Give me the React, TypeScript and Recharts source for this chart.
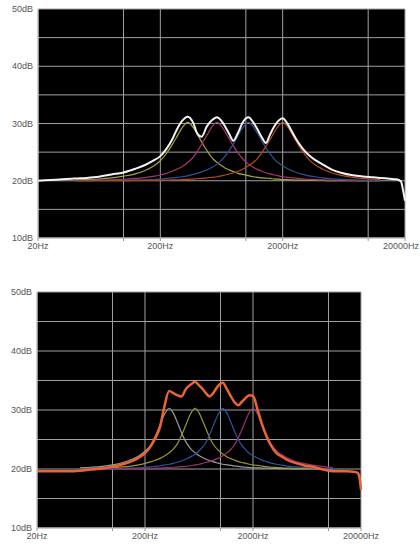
import React from 'react';
import { LineChart, Line, XAxis, YAxis, CartesianGrid } from 'recharts';

// shared frequency grid (Hz), log spaced-ish, denser around the four bands
const freqs = [20, 30, 40, 50, 63, 80, 100, 125, 150, 175, 200, 225, 250, 275, 300, 335, 370, 400, 435, 480, 530, 582, 630, 680, 730, 790, 860, 950, 1050, 1150, 1250, 1350, 1460, 1580, 1720, 1850, 2000, 2200, 2420, 2660, 2950, 3300, 3700, 4200, 5000, 6000, 7500, 9000, 11000, 12500, 15000, 17000, 18500, 19300, 20000];

const freqTicks = [20, 100, 200, 1000, 2000, 10000, 20000];
const freqLabels = [20, 200, 2000, 20000];
const dbTicks = [10, 15, 20, 25, 30, 35, 40, 45, 50];
const dbLabels = [10, 20, 30, 40, 50];

// top chart: combined response (white) + four bands
const topSum = [20.0, 20.2, 20.4, 20.5, 20.7, 21.1, 21.45, 22.1, 22.75, 23.5, 24.3, 25.6, 27.2, 29.1, 30.4, 31.2, 30.2, 28.3, 27.7, 29.5, 30.6, 31.1, 30.5, 29.4, 28.2, 27.0, 28.3, 30.3, 31.1, 30.2, 28.9, 27.6, 26.6, 28.1, 29.6, 30.5, 30.9, 29.9, 28.3, 26.8, 25.5, 24.4, 23.6, 22.9, 22.0, 21.4, 20.95, 20.75, 20.6, 20.5, 20.35, 20.25, 19.9, 18.3, 16.5];
const topBand1 = [null, null, 20.1, 20.2, 20.3, 20.5, 20.8, 21.2, 21.8, 22.55, 23.5, 24.8, 26.3, 27.8, 29.2, 30.2, 29.35, 28.15, 26.8, 25.3, 24.0, 23.2, 22.65, 22.2, 21.9, 21.6, 21.3, 21.1, 20.9, 20.7, 20.6, 20.5, 20.45, 20.4, 20.3, 20.3, 20.2, 20.2, 20.15, 20.1, 20.1, 20.1, 20.05, 20.05, 20.0, 20.0, 20.0, 20.0, 20.0, 20.0, null, null, null, null, null];
const topBand2 = [null, null, 20.0, 20.05, 20.1, 20.15, 20.25, 20.4, 20.55, 20.75, 21.0, 21.3, 21.65, 22.05, 22.45, 23.2, 24.1, 25.1, 26.35, 27.9, 29.45, 30.2, 29.6, 28.5, 27.35, 26.1, 24.9, 23.75, 22.9, 22.35, 21.95, 21.65, 21.4, 21.2, 21.0, 20.85, 20.7, 20.6, 20.5, 20.4, 20.3, 20.25, 20.2, 20.15, 20.1, 20.1, 20.05, 20.0, 20.0, 20.0, null, null, null, null, null];
const topBand3 = [null, null, 20.0, 20.0, 20.05, 20.05, 20.1, 20.1, 20.15, 20.2, 20.3, 20.4, 20.5, 20.6, 20.7, 20.85, 21.1, 21.3, 21.55, 21.9, 22.35, 22.9, 23.55, 24.35, 25.25, 26.4, 27.8, 29.35, 30.2, 29.45, 28.2, 26.95, 25.75, 24.7, 23.7, 23.1, 22.6, 22.1, 21.7, 21.35, 21.1, 20.85, 20.7, 20.5, 20.35, 20.25, 20.15, 20.1, 20.05, 20.05, null, null, null, null, null];
const topBand4 = [null, null, 20.0, 20.0, 20.0, 20.0, 20.0, 20.05, 20.05, 20.05, 20.1, 20.1, 20.15, 20.15, 20.2, 20.25, 20.3, 20.35, 20.4, 20.5, 20.6, 20.7, 20.85, 21.0, 21.2, 21.35, 21.65, 22.05, 22.6, 23.2, 23.9, 24.9, 26.0, 27.2, 28.6, 29.6, 30.2, 29.4, 27.95, 26.4, 24.95, 23.65, 22.75, 22.1, 21.4, 20.95, 20.6, 20.42, 20.27, 20.2, null, null, null, null, null];

// bottom chart: combined response (orange) + four bands
const botSum = [19.6, 19.6, 19.6, 19.7, 19.9, 20.1, 20.4, 20.8, 21.3, 21.9, 22.7, 23.8, 25.3, 27.1, 30.3, 33.2, 32.8, 32.5, 32.3, 33.6, 34.3, 34.8, 34.2, 33.6, 32.9, 32.3, 32.9, 34.1, 34.6, 33.5, 32.3, 31.3, 30.8, 31.4, 32.1, 32.5, 32.4, 30.1, 27.6, 25.6, 23.9, 22.7, 22.1, 21.5, 21.0, 20.6, 20.3, 19.9, 19.6, 19.6, 19.6, 19.55, 19.4, 18.7, 16.5];
const botBand1 = [null, null, null, 20.2, 20.3, 20.45, 20.7, 21.1, 21.6, 22.2, 23.0, 24.0, 25.6, 27.45, 29.1, 30.3, 29.3, 27.85, 26.2, 24.55, 23.4, 22.75, 22.3, 21.95, 21.7, 21.45, 21.2, 21.0, 20.8, 20.7, 20.6, 20.5, 20.45, 20.35, 20.3, 20.25, 20.2, 20.2, 20.15, 20.15, 20.1, 20.1, 20.05, 20.05, 20.0, 20.0, 20.0, 20.0, 20.0, null, null, null, null, null, null];
const botBand2 = [null, null, null, 20.05, 20.1, 20.15, 20.25, 20.35, 20.5, 20.7, 20.95, 21.2, 21.5, 21.8, 22.15, 22.75, 23.5, 24.3, 25.65, 27.55, 29.4, 30.3, 29.6, 28.25, 26.9, 25.4, 24.15, 23.2, 22.55, 22.05, 21.75, 21.5, 21.25, 21.1, 20.95, 20.8, 20.7, 20.6, 20.5, 20.4, 20.3, 20.25, 20.2, 20.15, 20.1, 20.1, 20.05, 20.0, 20.0, null, null, null, null, null, null];
const botBand3 = [null, null, null, 20.0, 20.0, 20.05, 20.05, 20.1, 20.15, 20.2, 20.3, 20.35, 20.45, 20.55, 20.65, 20.8, 21.0, 21.15, 21.35, 21.7, 22.05, 22.5, 23.05, 23.7, 24.45, 25.75, 27.4, 29.25, 30.3, 29.4, 27.9, 26.4, 25.0, 24.0, 23.2, 22.65, 22.25, 21.85, 21.5, 21.25, 21.0, 20.8, 20.65, 20.5, 20.35, 20.25, 20.15, 20.1, 20.05, null, null, null, null, null, null];
const botBand4 = [null, null, null, 20.0, 20.0, 20.0, 20.0, 20.05, 20.05, 20.05, 20.1, 20.1, 20.15, 20.15, 20.2, 20.25, 20.3, 20.35, 20.4, 20.45, 20.55, 20.7, 20.8, 20.95, 21.1, 21.25, 21.5, 21.8, 22.25, 22.75, 23.35, 24.15, 25.25, 26.7, 28.35, 29.6, 30.3, 29.35, 27.55, 25.75, 24.2, 23.1, 22.4, 21.85, 21.25, 20.9, 20.6, 20.4, 20.25, null, null, null, null, null, null];

const topRows = freqs.map((f, i) => ({ f, sum: topSum[i], b1: topBand1[i], b2: topBand2[i], b3: topBand3[i], b4: topBand4[i] }));
const botRows = freqs.map((f, i) => ({ f, sum: botSum[i], b1: botBand1[i], b2: botBand2[i], b3: botBand3[i], b4: botBand4[i] }));

const tickStyle = { fill: '#555', fontSize: 9, fontFamily: 'Arial, "Liberation Sans", sans-serif' };

// x tick label, nudged left just enough to stay inside the 420px picture
const FreqTick = (props: any) => {
  const { x, y, payload } = props;
  const v = payload.value;
  if (!freqLabels.includes(v)) return null;
  return (
    <text x={Math.min(x, 401)} y={y} dy="0.71em" textAnchor="middle" {...tickStyle}>
      {`${v}Hz`}
    </text>
  );
};

type Props = {
  rows: any[];
  colors: string[];
  sumColor: string;
  sumWidth: number;
  width: number;
  height: number;
  margin: { top: number; right: number; bottom: number; left: number };
  yWidth: number;
  xHeight: number;
};

const EqChart: React.FC<Props> = ({ rows, colors, sumColor, sumWidth, width, height, margin, yWidth, xHeight }) => (
  <LineChart width={width} height={height} data={rows} margin={margin}>
    <CartesianGrid stroke="#a0a0a0" strokeWidth={1} fill="#000" fillOpacity={1} />
    <XAxis
      dataKey="f"
      type="number"
      scale="log"
      domain={[20, 20000]}
      ticks={freqTicks}
      interval={0}
      height={xHeight}
      tickSize={3}
      tickMargin={2}
      axisLine={{ stroke: '#c8c8c8' }}
      tickLine={{ stroke: '#999' }}
      tick={<FreqTick />}
    />
    <YAxis
      type="number"
      domain={[10, 50]}
      ticks={dbTicks}
      interval={0}
      width={yWidth}
      tickSize={3}
      tickMargin={2}
      tickLine={false}
      axisLine={{ stroke: '#d0d0d0' }}
      tick={tickStyle}
      tickFormatter={(v: number) => (dbLabels.includes(v) ? `${v}dB` : '')}
    />
    {['b1', 'b2', 'b3', 'b4'].map((k, i) => (
      <Line key={k} dataKey={k} type="monotone" stroke={colors[i]} strokeWidth={1.2} dot={false} isAnimationActive={false} />
    ))}
    <Line dataKey="sum" type="monotone" stroke={sumColor} strokeWidth={sumWidth} dot={false} isAnimationActive={false} />
  </LineChart>
);

export default function App() {
  return (
    <div style={{ position: 'absolute', left: 0, top: 0, width: 420, height: 546, background: '#fff' }}>
      <div style={{ position: 'absolute', left: 0, top: 0 }}>
        <EqChart
          rows={topRows}
          colors={['#aaa33a', '#a8356e', '#30508f', '#b5481f']}
          sumColor="#f2f2f2"
          sumWidth={2}
          width={420}
          height={260}
          margin={{ top: 9, right: 15, bottom: 0, left: 0 }}
          yWidth={38}
          xHeight={22}
        />
      </div>
      <div style={{ position: 'absolute', left: 0, top: 270 }}>
        <EqChart
          rows={botRows}
          colors={['#9a9a9a', '#9c962e', '#30539a', '#953075']}
          sumColor="#ec6434"
          sumWidth={2.5}
          width={420}
          height={276}
          margin={{ top: 22, right: 59, bottom: 0, left: 0 }}
          yWidth={37}
          xHeight={18}
        />
      </div>
    </div>
  );
}
